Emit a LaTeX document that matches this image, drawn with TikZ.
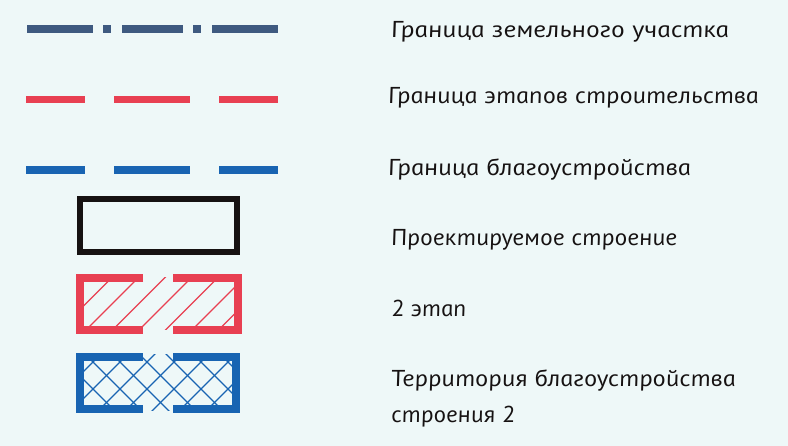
\documentclass[tikz,border=0pt]{standalone}
\usepackage{fontspec}
\newfontfamily\gost[FakeSlant=-0.18]{PT Sans Italic}
\definecolor{bgc}{RGB}{238,248,248}
\definecolor{plotc}{RGB}{62,90,128}
\definecolor{redc}{RGB}{232,64,82}
\definecolor{bluec}{RGB}{24,100,178}
\definecolor{blk}{RGB}{22,18,18}
\newcommand{\wlab}[2]{\scalebox{#1}[1]{#2}}
\tikzset{
  lbl/.style={anchor=base west, inner sep=0pt, font=\gost\fontsize{23}{28}\selectfont, text=blk},
  seg/.style={line cap=butt, line width=7.5pt},
  hatchr/.style={redc, line width=1.3pt},
  hatchb/.style={bluec, line width=1.4pt},
  frame/.style={line width=8pt, line cap=butt, line join=miter}
}
\begin{document}
\begin{tikzpicture}[x=1pt,y=-1pt]
\fill[bgc] (0,0) rectangle (788,446);
\useasboundingbox (0,0) rectangle (788,446);
% row 1: land plot boundary
\foreach \a/\b in {27/93,103/111,122/183,193/201,212/278}
  \draw[seg, plotc] (\a,29) -- (\b,29);
% row 2: stage boundary
\foreach \a/\b in {26/85,114/190,219/278}
  \draw[seg, redc] (\a,99.5) -- (\b,99.5);
% row 3: landscaping boundary
\foreach \a/\b in {26/85,114/190,219/278}
  \draw[seg, bluec] (\a,170) -- (\b,170);
% row 4: designed building
\draw[blk, line width=6.5pt] (80,199) rectangle (237,252);
% row 5: stage 2, hatched
\begin{scope}
  \clip (80,278) rectangle (238,330);
  \foreach \c in {363,389.5,...,600}
    \draw[hatchr] (\c-340,340) -- (\c-270,270);
\end{scope}
\draw[frame, redc] (143,278) -- (80,278) -- (80,330) -- (143,330);
\draw[frame, redc] (173,278) -- (238,278) -- (238,330) -- (173,330);
% row 6: territory, cross-hatched
\begin{scope}
  \clip (80,355) rectangle (236,411);
  \foreach \c in {428,455,...,680}
    \draw[hatchb] (\c-420,420) -- (\c-350,350);
  \foreach \d in {-350,-323,...,-100}
    \draw[hatchb] (\d+350,350) -- (\d+420,420);
\end{scope}
\draw[frame, bluec] (143,357) -- (80,357) -- (80,409) -- (143,409);
\draw[frame, bluec] (173,357) -- (236,357) -- (236,409) -- (173,409);
% labels
\node[lbl] (t1) at (392,38) {\wlab{1.2}{Граница земельного участка}};
\node[lbl] (t2) at (389,104) {\wlab{1.146}{Граница этапов строительства}};
\node[lbl] (t3) at (389,176) {\wlab{1.17}{Граница благоустройства}};
\node[lbl] (t4) at (392,246) {\wlab{1.11}{Проектируемое строение}};
\node[lbl] (t5) at (392,317) {\wlab{1.09}{2 этап}};
\node[lbl] (t6) at (392,387) {\wlab{1.15}{Территория благоустройства}};
\node[lbl] (t7) at (392,423) {\wlab{1.09}{строения 2}};
\end{tikzpicture}
\end{document}
